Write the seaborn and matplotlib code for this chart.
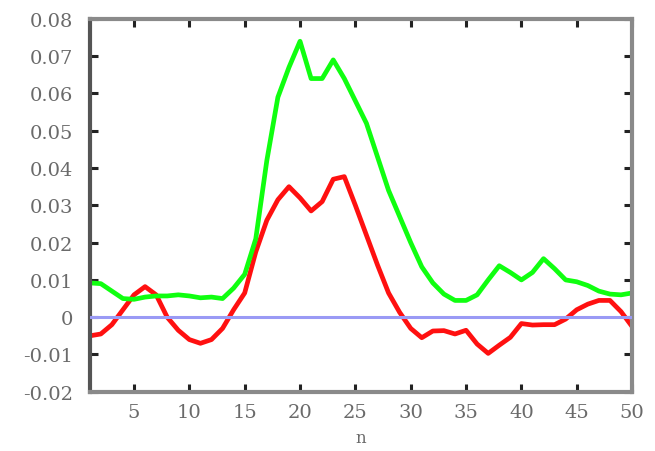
import numpy as np
import pandas as pd
import matplotlib
matplotlib.use("Agg")
import matplotlib.pyplot as plt
import seaborn as sns

n = list(range(1, 51))
green = [0.0092, 0.0090, 0.0070, 0.0050, 0.0048, 0.0054, 0.0057, 0.0057, 0.0060, 0.0057,
         0.0052, 0.0054, 0.0050, 0.0078, 0.0115, 0.0210, 0.0420, 0.0590, 0.0670, 0.0740,
         0.0640, 0.0640, 0.0690, 0.0640, 0.0580, 0.0520, 0.0430, 0.0340, 0.0270, 0.0200,
         0.0135, 0.0092, 0.0062, 0.0045, 0.0045, 0.0060, 0.0100, 0.0138, 0.0120, 0.0100,
         0.0120, 0.0157, 0.0130, 0.0100, 0.0095, 0.0085, 0.0070, 0.0062, 0.0060, 0.0065]
red = [-0.0050, -0.0045, -0.0020, 0.0020, 0.0060, 0.0082, 0.0060, 0.0000, -0.0035, -0.0060,
       -0.0070, -0.0060, -0.0030, 0.0020, 0.0065, 0.0175, 0.0260, 0.0315, 0.0350, 0.0320,
       0.0285, 0.0310, 0.0370, 0.0377, 0.0300, 0.0220, 0.0140, 0.0065, 0.0013, -0.0030,
       -0.0055, -0.0037, -0.0036, -0.0045, -0.0035, -0.0072, -0.0097, -0.0075, -0.0054, -0.0017,
       -0.0021, -0.0020, -0.0020, -0.0005, 0.0020, 0.0035, 0.0045, 0.0045, 0.0015, -0.0025]
yticks = [-0.02, -0.01, 0, 0.01, 0.02, 0.03, 0.04, 0.05, 0.06, 0.07, 0.08]
ytick_labels = ["-0.02", "-0.01", "0", "0.01", "0.02", "0.03", "0.04", "0.05", "0.06", "0.07", "0.08"]
xticks = [5, 10, 15, 20, 25, 30, 35, 40, 45, 50]

df = pd.DataFrame({
    "n": n + n,
    "value": red + green,
    "series": ["red"] * len(n) + ["green"] * len(n),
})

sns.set_theme(style="white")
plt.rcParams['font.family'] = ['DejaVu Serif', 'DejaVu Sans']

fig = plt.figure(figsize=(6.55, 4.52), dpi=100)
ax = fig.add_axes([0.137, 0.131, 0.828, 0.825])

sns.lineplot(data=df, x="n", y="value", hue="series",
             palette={"red": "#ff1010", "green": "#10ff10"},
             hue_order=["red", "green"],
             linewidth=3.4, legend=False, ax=ax)
ax.axhline(0, color="#9a9af5", linewidth=2.2, zorder=3)

ax.set_xlim(1, 50)
ax.set_ylim(-0.02, 0.08)
ax.set_xticks(xticks)
ax.set_xticklabels([str(t) for t in xticks])
ax.set_yticks(yticks)
ax.set_yticklabels(ytick_labels)
ax.tick_params(axis="both", direction="in", length=6, width=2.2, color="#222222",
               labelsize=14, labelcolor="#6a6a6a", top=True, right=True,
               bottom=True, left=True)
ax.tick_params(axis="y", pad=12)
ax.tick_params(axis="x", pad=8)
for side, sp in ax.spines.items():
    sp.set_visible(True)
    sp.set_color("#8a8a8a")
    sp.set_linewidth(3.0)
ax.spines["left"].set_color("#555555")
ax.set_xlabel("n", color="#6a6a6a", fontsize=12, labelpad=6)
ax.set_ylabel("")
ax.grid(False)

fig.savefig("out.png", dpi=100)
